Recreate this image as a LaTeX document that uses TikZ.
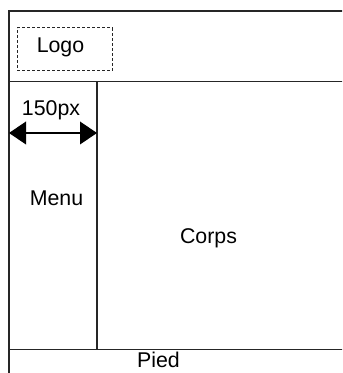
\documentclass[tikz,border=0pt]{standalone}
\usepackage{fontspec}
\setmainfont{Liberation Sans}
\usetikzlibrary{arrows.meta}
\begin{document}
\begin{tikzpicture}[x=0.75pt,y=-0.75pt,line width=0.9pt,
  lbl/.style={font=\fontsize{16}{19}\selectfont,anchor=base,inner sep=0pt},
  tri/.tip={Triangle[length=12.75pt,width=17pt]},
  frame/.style={draw=black!85}]
\useasboundingbox (0,0) rectangle (342,373);
\coordinate (tl) at (9,11);
\coordinate (tr) at (350,11);
\coordinate (hl) at (9,81.5);
\coordinate (hr) at (350,81.5);
\coordinate (fl) at (9,349.5);
\coordinate (fr) at (350,349.5);
\coordinate (bl) at (9,380);
\coordinate (mt) at (97,81.5);
\coordinate (mb) at (97,349.5);
\begin{scope}
\clip (0,0) rectangle (342,373);
\draw[frame] (bl) -- (tl) -- (tr);
\draw[frame] (hl) -- (hr);
\draw[frame] (fl) -- (fr);
\draw[frame] (mt) -- (mb);
\end{scope}
\node[draw=black!85,dash pattern=on 2.25pt off 1.5pt,line width=0.75pt,minimum width=71.25pt,minimum height=32.25pt,inner sep=0pt] (logobox) at (64.5,49.5) {};
\node[lbl] (logo) at (60.5,52.5) {Logo};
\node[lbl] (px) at (51,115.5) {150px};
\coordinate (al) at (9,133);
\coordinate (ar) at (97,133);
\draw[tri-tri,line width=1.1pt] (al) -- (ar);
\node[lbl] (menu) at (56.5,206) {Menu};
\node[lbl] (corps) at (208.5,243) {Corps};
\node[lbl] (pied) at (158.5,367) {Pied};
\end{tikzpicture}
\end{document}
